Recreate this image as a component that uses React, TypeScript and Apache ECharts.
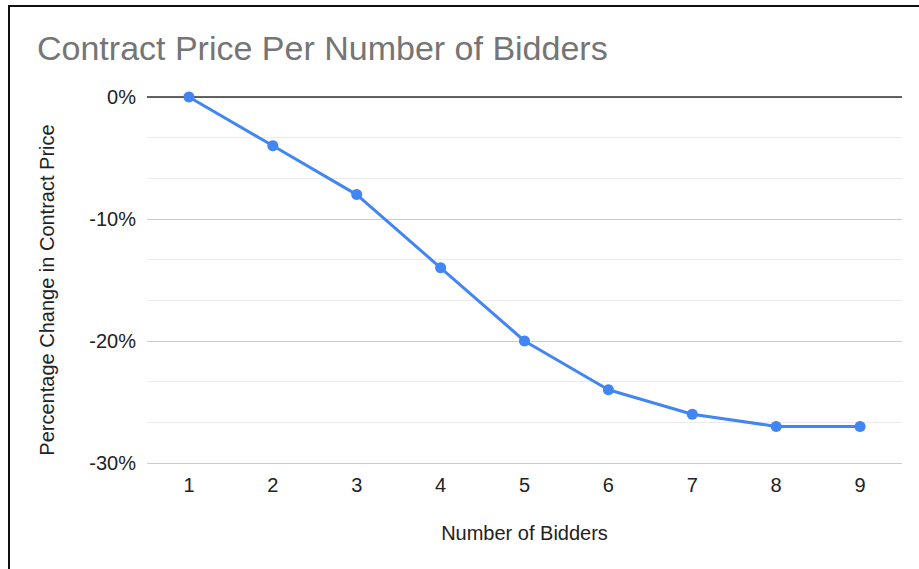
import React, { useEffect, useRef } from "react";
import * as echarts from "echarts";

const categories = ["1", "2", "3", "4", "5", "6", "7", "8", "9"];
const values = [0, -4, -8, -14, -20, -24, -26, -27, -27];
const titleText = "Contract Price Per Number of Bidders";
const xName = "Number of Bidders";
const yName = "Percentage Change in Contract Price";

export default function App() {
  const ref = useRef<HTMLDivElement>(null);
  useEffect(() => {
    if (!ref.current) return;
    const chart = echarts.init(ref.current, null, { renderer: "svg" });
    const font = "'Liberation Sans', Arial, sans-serif";
    chart.setOption({
      animation: false,
      backgroundColor: "#ffffff",
      title: {
        text: titleText,
        left: 37,
        top: 31,
        padding: 0,
        textStyle: { color: "#757575", fontSize: 34, fontWeight: "normal", fontFamily: font },
      },
      grid: { left: 147, right: 17, top: 97, bottom: 106 },
      xAxis: {
        type: "category",
        data: categories,
        boundaryGap: true,
        name: xName,
        nameLocation: "middle",
        nameGap: 60,
        nameTextStyle: { color: "#222", fontSize: 20, fontFamily: font },
        axisLine: { show: true, lineStyle: { color: "#cccccc", width: 1 } },
        axisTick: { show: false },
        axisLabel: { color: "#222", fontSize: 20, fontFamily: font, margin: 12 },
        splitLine: { show: false },
      },
      yAxis: {
        type: "value",
        min: -30,
        max: 0,
        interval: 10,
        axisLine: { show: false },
        axisTick: { show: false },
        axisLabel: { color: "#222", fontSize: 20, fontFamily: font, margin: 11, formatter: "{value}%" },
        splitLine: { show: true, lineStyle: { color: "#cccccc", width: 1 } },
        minorTick: { show: false, splitNumber: 3 },
        minorSplitLine: { show: true, lineStyle: { color: "#ebebeb", width: 1 } },
      },
      graphic: [
        { type: "line", shape: { x1: 8, y1: 6, x2: 919, y2: 6 }, style: { stroke: "#111", lineWidth: 2 } },
        { type: "line", shape: { x1: 9, y1: 5, x2: 9, y2: 569 }, style: { stroke: "#111", lineWidth: 2 } },
        {
          type: "text",
          x: 47,
          y: 290,
          rotation: Math.PI / 2,
          style: {
            text: yName,
            fill: "#222",
            font: "20px 'Liberation Sans', Arial, sans-serif",
            align: "center",
            verticalAlign: "middle",
          },
        },
      ],
      series: [
        {
          type: "line",
          data: values,
          symbol: "circle",
          symbolSize: 11,
          z: 3,
          lineStyle: { color: "#4285F4", width: 3 },
          itemStyle: { color: "#4285F4" },
          markLine: {
            silent: true,
            symbol: "none",
            label: { show: false },
            z: 1,
            lineStyle: { color: "#333333", width: 1.5, type: "solid" },
            data: [{ yAxis: 0 }],
          },
        },
      ],
    });
    return () => chart.dispose();
  }, []);
  return <div ref={ref} style={{ position: "fixed", left: 0, top: 0, width: 919, height: 569 }} />;
}
